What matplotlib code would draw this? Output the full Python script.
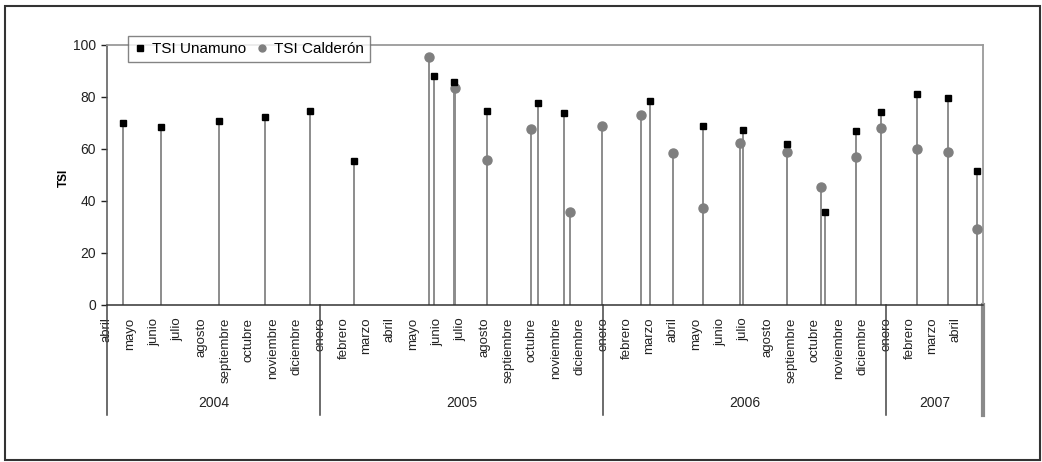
import matplotlib
matplotlib.use("Agg")
import matplotlib.pyplot as plt
import matplotlib.dates as mdates
from matplotlib.patches import Rectangle
import numpy as np
import pandas as pd

plt.rcParams['font.family'] = ['Liberation Sans', 'DejaVu Sans']

# ---- data ----
unamuno_dates = ['2004-04-21', '2004-06-10', '2004-08-23', '2004-10-22', '2004-12-19',
                 '2005-02-14', '2005-05-28', '2005-06-22', '2005-08-04', '2005-10-09',
                 '2005-11-11', '2006-03-03', '2006-05-10', '2006-06-30', '2006-08-26',
                 '2006-10-14', '2006-11-23', '2006-12-25', '2007-02-10', '2007-03-22',
                 '2007-04-28']
unamuno_tsi = [70.0, 68.4, 70.8, 72.2, 74.4,
               55.4, 88.1, 85.5, 74.5, 77.7,
               73.6, 78.2, 68.7, 67.2, 61.8,
               35.7, 66.8, 74.0, 80.9, 79.4,
               51.5]

calderon_dates = ['2005-05-21', '2005-06-24', '2005-08-04', '2005-09-30', '2005-11-19',
                  '2005-12-30', '2006-02-19', '2006-04-01', '2006-05-10', '2006-06-26',
                  '2006-08-26', '2006-10-09', '2006-11-23', '2006-12-25', '2007-02-10',
                  '2007-03-22', '2007-04-28']
calderon_tsi = [95.1, 83.5, 55.6, 67.5, 35.8,
                68.7, 73.0, 58.5, 37.4, 62.3,
                58.9, 45.4, 57.0, 68.0, 59.8,
                58.9, 29.2]

month_names = ['enero', 'febrero', 'marzo', 'abril', 'mayo', 'junio', 'julio',
               'agosto', 'septiembre', 'octubre', 'noviembre', 'diciembre']
years = ['2004', '2005', '2006', '2007']
axis_start = '2004-04-01'
axis_end = '2007-05-06'
last_label_month = '2007-04-01'

yticks = [0, 20, 40, 60, 80, 100]

# ---- figure ----
W, H = 1042, 462
fig = plt.figure(figsize=(W / 100, H / 100), dpi=100)
ax = fig.add_axes([107 / W, 1 - 305 / H, (983 - 107) / W, (305 - 44.6) / H])

xu = mdates.date2num(pd.to_datetime(unamuno_dates))
xc = mdates.date2num(pd.to_datetime(calderon_dates))

stem_col = '#8c8c8c'
ax.vlines(xc, 0, calderon_tsi, colors=stem_col, linewidth=1.4, zorder=2)
ax.vlines(xu, 0, unamuno_tsi, colors=stem_col, linewidth=1.4, zorder=2)
ax.plot(xc, calderon_tsi, linestyle='none', marker='o', markersize=6.5,
        color='#7f7f7f', label='TSI Calderón', zorder=3)
ax.plot(xu, unamuno_tsi, linestyle='none', marker='s', markersize=4.6,
        color='black', label='TSI Unamuno', zorder=4)

x0 = mdates.date2num(pd.Timestamp(axis_start))
x1 = mdates.date2num(pd.Timestamp(axis_end))
ax.set_xlim(x0, x1)
ax.set_ylim(0, 100)
ax.set_yticks(yticks)
ax.tick_params(axis='y', direction='out', length=4, width=1, labelsize=10,
               pad=4, colors='#222222')

months = pd.date_range(axis_start, last_label_month, freq='MS')
ax.set_xticks(mdates.date2num(months))
ax.set_xticklabels([month_names[m.month - 1] for m in months], rotation=90,
                   fontsize=9.5, ha='center', va='top', color='#222222')
ax.tick_params(axis='x', length=0, pad=9)

for s in ['top', 'right']:
    ax.spines[s].set_color('#9a9a9a')
    ax.spines[s].set_linewidth(1.3)
ax.spines['left'].set_color('#555555')
ax.spines['bottom'].set_color('#333333')
ax.spines['left'].set_linewidth(1.1)
ax.spines['bottom'].set_linewidth(1.1)

ax.set_ylabel('TSI', fontsize=8.5, fontweight='bold')
ax.yaxis.set_label_coords((70 - 107) / (983 - 107), (305 - 178) / (305 - 44.6))

# year separators and labels
trans = ax.get_xaxis_transform()
sep_bottom = -(415 - 305) / (305 - 44.6)
year_starts = [pd.Timestamp(axis_start)] + [pd.Timestamp(f'{y}-01-01') for y in years[1:]]
sep_x = [mdates.date2num(d) for d in year_starts] + [x1]
for i, sx in enumerate(sep_x):
    last = i == len(sep_x) - 1
    ax.plot([sx, sx], [0, sep_bottom], transform=trans, clip_on=False,
            color='#8a8a8a' if last else '#444444', linewidth=3 if last else 1.1)
ylab = -(403 - 305) / (305 - 44.6)
for i, y in enumerate(years):
    ax.text((sep_x[i] + sep_x[i + 1]) / 2, ylab, y, transform=trans,
            ha='center', va='center', fontsize=10, color='#222222')

# legend
h, l = ax.get_legend_handles_labels()
leg = fig.legend(h[::-1], l[::-1], loc='upper left', ncol=2,
                 bbox_to_anchor=(128 / W, 1 - 36 / H), fontsize=11,
                 frameon=True, fancybox=False, borderaxespad=0,
                 handlelength=0.8, handletextpad=0.4, columnspacing=0.6,
                 borderpad=0.4)
leg.get_frame().set_edgecolor('#666666')
leg.get_frame().set_linewidth(1.0)
for hd in leg.legend_handles:
    hd.set_markersize(5)

# outer border
fig.patches.append(Rectangle((5 / W, 2 / H), (1040 - 5) / W, (458 - 4) / H,
                             transform=fig.transFigure, fill=False,
                             edgecolor='#333333', linewidth=1.5))

fig.savefig('out.png', dpi=100)
